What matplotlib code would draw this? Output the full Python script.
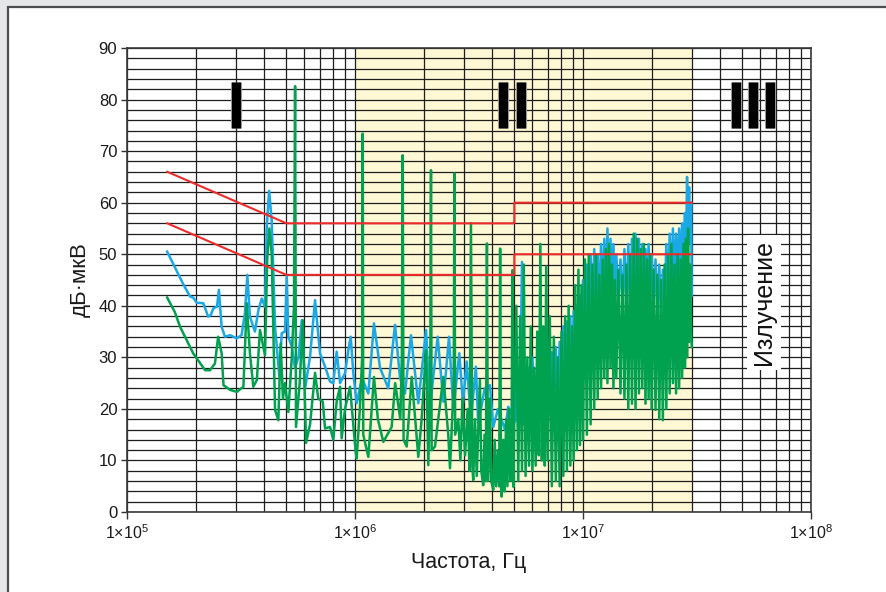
import numpy as np
import matplotlib
matplotlib.use("Agg")
import matplotlib.pyplot as plt
from matplotlib.patches import Rectangle
from matplotlib.ticker import LogLocator, MultipleLocator, NullFormatter, FixedLocator
import matplotlib.patheffects as pe

plt.rcParams['font.family'] = ['Liberation Sans', 'DejaVu Sans']
plt.rcParams['mathtext.fontset'] = 'custom'
plt.rcParams['mathtext.rm'] = 'Liberation Sans'
plt.rcParams['mathtext.it'] = 'Liberation Sans'

# quasi-peak (blue), 0.15 .. 5 MHz
qp_f_low = [0.150, 0.160, 0.175, 0.189, 0.195, 0.202, 0.216, 0.227, 0.233, 0.239,
            0.248, 0.253, 0.260, 0.269, 0.283, 0.303, 0.318, 0.329, 0.337, 0.346,
            0.364, 0.377, 0.390, 0.403, 0.410, 0.420, 0.431, 0.446, 0.466, 0.477,
            0.493, 0.502, 0.510, 0.528, 0.545, 0.565, 0.584, 0.604, 0.635, 0.668,
            0.702, 0.739, 0.777, 0.803, 0.831, 0.860, 0.904, 0.935, 0.957, 0.983,
            1.017, 1.073, 1.144, 1.211, 1.287, 1.399, 1.498, 1.575, 1.657, 1.760,
            1.895, 2.049, 2.132, 2.305, 2.440, 2.584, 2.700, 2.867, 2.975, 3.088,
            3.225, 3.391, 3.469, 3.710, 3.906, 4.040, 4.240, 4.550, 4.700, 5.030]
qp_db_low = [50.5, 48.0, 44.5, 41.8, 41.6, 40.6, 40.5, 37.9, 38.2, 39.5,
             39.8, 43.1, 35.9, 34.0, 34.3, 33.7, 34.3, 38.6, 46.0, 37.9,
             35.0, 39.2, 41.4, 39.8, 55.3, 62.3, 56.6, 35.9, 26.2, 34.7,
             35.0, 46.0, 34.0, 32.1, 28.0, 30.0, 37.2, 24.0, 30.1, 41.1,
             30.8, 28.2, 25.3, 25.0, 31.1, 25.0, 26.9, 31.4, 34.0, 27.0,
             21.1, 26.0, 23.0, 36.6, 28.0, 24.0, 36.3, 26.0, 23.0, 34.3,
             21.1, 35.3, 20.4, 34.0, 21.4, 34.0, 19.8, 30.8, 21.0, 29.2,
             18.0, 28.2, 17.2, 24.0, 24.6, 16.5, 20.0, 15.9, 20.4, 17.5]

# average (green), 0.15 .. 5 MHz
av_f_low = [0.150, 0.162, 0.171, 0.195, 0.220, 0.231, 0.243, 0.251, 0.260, 0.265,
            0.283, 0.303, 0.324, 0.335, 0.346, 0.358, 0.371, 0.383, 0.403, 0.412,
            0.421, 0.431, 0.446, 0.461, 0.472, 0.483, 0.493, 0.510, 0.528, 0.540,
            0.546, 0.551, 0.572, 0.590, 0.610, 0.635, 0.668, 0.690, 0.722, 0.739,
            0.777, 0.803, 0.831, 0.860, 0.874, 0.904, 0.951, 0.983, 1.005, 1.017,
            1.050, 1.075, 1.081, 1.087, 1.144, 1.211, 1.260, 1.331, 1.448, 1.500,
            1.580, 1.605, 1.619, 1.633, 1.686, 1.773, 1.895, 1.960, 2.049, 2.097,
            2.140, 2.154, 2.168, 2.243, 2.440, 2.565, 2.610, 2.710, 2.730, 2.750,
            2.838, 2.900, 2.960, 3.040, 3.120, 3.180, 3.225, 3.270, 3.300, 3.360,
            3.420, 3.530, 3.580, 3.650, 3.700, 3.750, 3.790, 3.830, 3.906, 3.960,
            4.040, 4.100, 4.160, 4.240, 4.290, 4.330, 4.370, 4.400, 4.470, 4.530,
            4.600, 4.660, 4.730, 4.800, 4.860, 4.900, 4.950, 5.000]
av_db_low = [41.6, 38.8, 35.9, 30.8, 27.5, 27.5, 28.8, 34.0, 30.8, 24.6,
             23.7, 23.3, 24.3, 40.5, 30.8, 24.3, 25.6, 35.3, 30.4, 48.9,
             55.0, 50.2, 19.8, 17.8, 32.7, 22.0, 25.0, 19.4, 30.0, 40.0,
             82.6, 16.5, 25.0, 37.2, 13.4, 17.0, 27.0, 22.0, 21.4, 16.2,
             16.5, 14.0, 21.5, 24.3, 14.3, 20.0, 24.3, 17.0, 12.0, 10.4,
             20.0, 30.0, 73.4, 15.0, 10.7, 26.2, 18.0, 13.6, 16.5, 25.0,
             18.0, 30.0, 69.2, 14.0, 12.7, 26.2, 10.7, 18.0, 31.4, 9.1,
             30.0, 66.3, 12.0, 12.7, 26.2, 15.0, 8.5, 25.0, 65.7, 15.0,
             18.0, 10.0, 22.0, 11.0, 20.0, 8.0, 56.0, 9.0, 6.2, 18.0,
             7.0, 25.6, 8.0, 5.2, 15.0, 6.0, 52.1, 6.0, 22.0, 6.0,
             4.3, 14.0, 5.0, 12.0, 5.0, 51.1, 5.0, 3.0, 14.0, 4.0,
             18.0, 5.0, 20.0, 6.0, 12.0, 46.9, 4.9, 22.0]

# common sweep points above 5 MHz
f_hf = [5.1, 5.2, 5.3, 5.4, 5.5, 5.6, 5.7, 5.8, 5.9, 6.0,
        6.1, 6.2, 6.3, 6.4, 6.5, 6.6, 6.7, 6.8, 6.9, 7.0,
        7.15, 7.3, 7.45, 7.6, 7.75, 7.9, 8.05, 8.2, 8.35, 8.5,
        8.65, 8.8, 8.95, 9.1, 9.25, 9.4, 9.55, 9.7, 9.85, 10.0,
        10.2, 10.4, 10.6, 10.8, 11.0, 11.2, 11.4, 11.6, 11.8, 12.0,
        12.2, 12.4, 12.6, 12.8, 13.0, 13.2, 13.4, 13.6, 13.8, 14.0,
        14.3, 14.6, 14.9, 15.2, 15.5, 15.8, 16.1, 16.4, 16.7, 17.0,
        17.3, 17.6, 17.9, 18.2, 18.5, 18.8, 19.1, 19.4, 19.7, 20.0,
        20.4, 20.8, 21.2, 21.6, 22.0, 22.4, 22.8, 23.2, 23.6, 24.0,
        24.4, 24.8, 25.2, 25.6, 26.0, 26.4, 26.8, 27.2, 27.6, 28.0,
        28.3, 28.6, 28.9, 29.2, 29.5, 29.8, 30.0]
qp_db_hf = [24, 16, 22, 48.5, 17, 25, 18, 28, 17, 30,
            20, 26, 17, 27, 18, 29, 19, 31, 20, 30,
            19, 31, 20, 32, 20, 33, 22, 36, 23, 37,
            24, 38, 25, 39, 27, 40, 29, 42, 31, 45,
            34, 48, 36, 50, 38, 51, 39, 50, 40, 52,
            41, 53, 42, 55, 42, 53, 41, 52, 40, 50,
            41, 49, 40, 51, 39, 52, 40, 53, 41, 54,
            42, 53, 43, 52, 42, 51, 41, 52, 42, 50,
            40, 49, 39, 48, 38, 47, 39, 52, 42, 54,
            43, 55, 44, 54, 45, 55, 46, 56, 47, 58,
            50, 65, 55, 63, 52, 60, 42]
av_db_hf = [40, 6, 38, 8, 48, 7, 30, 9, 36, 8,
            28, 9, 35, 11, 52, 10, 36, 9, 47.6, 10,
            38, 5, 34, 6, 30, 5, 35, 7, 38, 8,
            40, 9, 36, 10, 44, 12, 47, 13, 44, 14,
            49, 15, 50, 17, 48, 20, 50, 22, 46, 24,
            49, 26, 51, 25, 52, 28, 48, 24, 45, 26,
            47, 23, 46, 22, 48, 20, 50, 21, 54, 20,
            53, 23, 51, 24, 52, 21, 49, 22, 50, 20,
            47, 19.8, 46, 18, 45, 17.8, 48, 20, 50, 23,
            52, 25, 48, 23, 50, 24, 49, 26, 52, 28,
            53, 30, 55, 33, 48, 35, 32]

# CISPR limit lines
lim_qp_f = [0.15, 0.5, 5.0, 5.0, 30.0]
lim_qp_db = [66, 56, 56, 60, 60]
lim_av_f = [0.15, 0.5, 5.0, 5.0, 30.0]
lim_av_db = [56, 46, 46, 50, 50]

band_mhz = (1.0, 30.0)
region_bars = {'I': [0.3], 'II': [4.48, 5.36], 'III': [46.7, 55.6, 66.4]}

qp_f = np.array(qp_f_low + f_hf) * 1e6
qp_db = np.array(qp_db_low + qp_db_hf)
av_f = np.array(av_f_low + f_hf) * 1e6
av_db = np.array(av_db_low + av_db_hf)

fig = plt.figure(figsize=(8.87, 5.92), dpi=100)
fig.patch.set_facecolor('#e6e7e9')
panel = Rectangle((8 / 887, -0.05), 1.0, 1 - 7 / 592 + 0.05, transform=fig.transFigure,
                  facecolor='white', edgecolor='#4d4d4d', lw=1.6, zorder=-10)
fig.patches.append(panel)

ax = fig.add_axes([0.1432, 0.1351, 0.7711, 0.7838])
ax.set_zorder(1)
ax.set_xscale('log')
ax.set_xlim(1e5, 1e8)
ax.set_ylim(0, 90)
ax.set_facecolor('white')

ax.axvspan(band_mhz[0] * 1e6, band_mhz[1] * 1e6, color='#fff8d4', lw=0, zorder=0.2)

# grid
ax.xaxis.set_major_locator(FixedLocator([1e5, 1e6, 1e7, 1e8]))
ax.xaxis.set_minor_locator(LogLocator(base=10, subs=np.arange(2, 10), numticks=30))
ax.xaxis.set_minor_formatter(NullFormatter())
ax.set_xticklabels([r'1×10$^{5}$', r'1×10$^{6}$', r'1×10$^{7}$', r'1×10$^{8}$'])
ax.yaxis.set_major_locator(MultipleLocator(10))
ax.yaxis.set_minor_locator(MultipleLocator(2))
ax.grid(which='both', color='#1e1e1e', lw=0.9, zorder=0.5)
ax.set_axisbelow(True)
ax.tick_params(which='minor', length=0)
ax.tick_params(axis='y', which='major', length=4, width=1, color='#333333', labelsize=12,
               pad=3, labelcolor='#1a1a1a')
ax.tick_params(axis='x', which='major', length=5, width=1, color='#333333', labelsize=11.5,
               pad=3, labelcolor='#1a1a1a')
for s in ax.spines.values():
    s.set_color('#3a3a3a')
    s.set_linewidth(1.2)

# spectra
ax.plot(qp_f, qp_db, color='#1aa9e6', lw=1.8, zorder=3)
ax.plot(av_f, av_db, color='#00a14f', lw=1.8, zorder=4)

# limits
ax.plot(np.array(lim_qp_f) * 1e6, lim_qp_db, color='#ee2b2b', lw=1.5, zorder=5)
ax.plot(np.array(lim_av_f) * 1e6, lim_av_db, color='#ee2b2b', lw=1.5, zorder=5)

# region marks
for xs in region_bars.values():
    for x in xs:
        ax.plot([x * 1e6, x * 1e6], [74.5, 83.5], color='black', lw=6.5,
                solid_capstyle='butt', zorder=6,
                path_effects=[pe.Stroke(linewidth=8, foreground='#9a9a9a'), pe.Normal()])

ax.text(62.2e6, 40.7, 'Излучение', rotation=90, fontsize=18, ha='center', va='center',
        color='#111111', zorder=7,
        bbox=dict(boxstyle='square,pad=0.2', facecolor='white', edgecolor='none'))

ax.set_xlabel('Частота, Гц', fontsize=15.5, labelpad=7, color='#1a1a1a')
ax.set_ylabel('дБ·мкВ', fontsize=16, labelpad=6, color='#1a1a1a')

fig.savefig('out.png', dpi=100, facecolor=fig.get_facecolor())
